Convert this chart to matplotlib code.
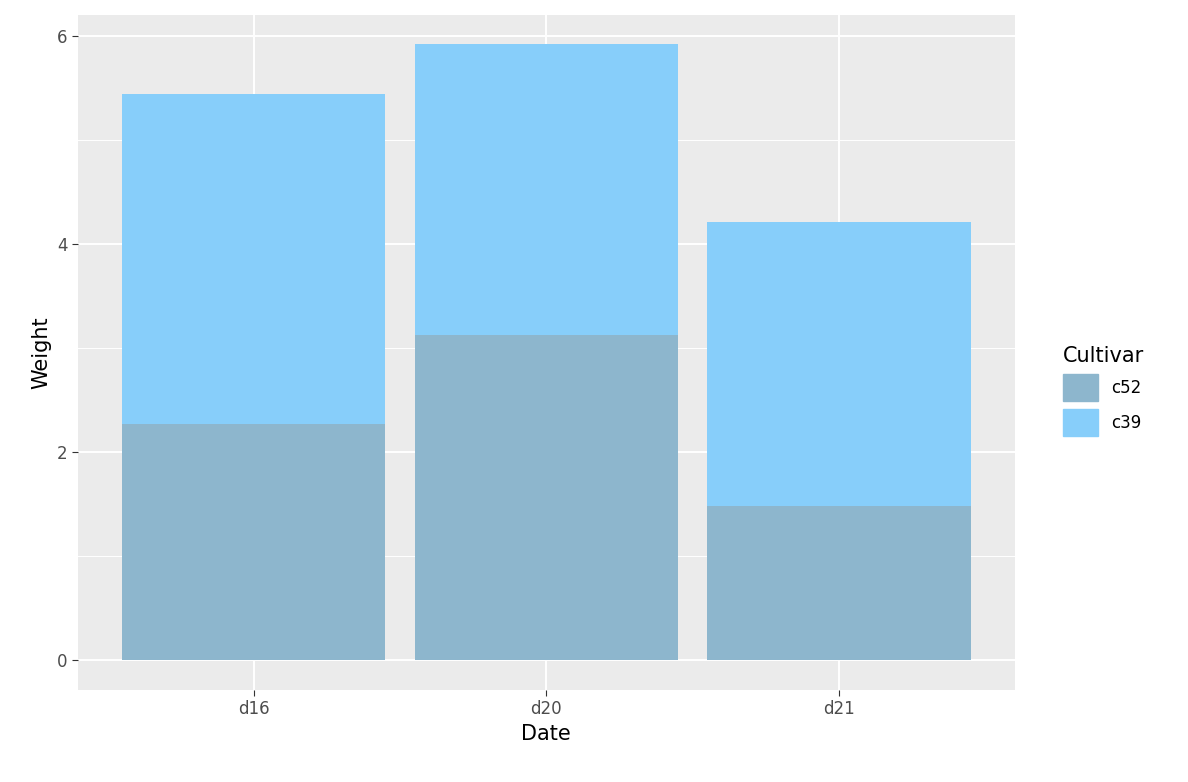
import matplotlib
matplotlib.use("Agg")
import matplotlib.pyplot as plt
from matplotlib.patches import Patch

dates = ["d16", "d20", "d21"]
c52 = [2.27, 3.12, 1.48]
c39 = [3.17, 2.80, 2.73]
col52 = "#8DB6CD"
col39 = "#87CEFA"

fig = plt.figure(figsize=(11.88, 7.82), dpi=100)
ax = fig.add_axes([0.0657, 0.1176, 0.7883, 0.8632])
ax.set_facecolor("#EBEBEB")
x = list(range(len(dates)))
ax.bar(x, c52, width=0.9, color=col52, zorder=2)
ax.bar(x, c39, width=0.9, bottom=c52, color=col39, zorder=2)
ax.set_xlim(-0.6, 2.6)
ax.set_ylim(-0.29, 6.2)
ax.set_yticks([0, 2, 4, 6])
ax.set_yticks([1, 3, 5], minor=True)
ax.set_xticks(x)
ax.set_xticklabels(dates)
ax.grid(which="major", color="white", linewidth=1.4, zorder=1)
ax.grid(which="minor", axis="y", color="white", linewidth=0.7, zorder=1)
ax.set_axisbelow(True)
for s in ax.spines.values():
    s.set_visible(False)
ax.tick_params(which="both", length=4, color="#333333", labelsize=12, labelcolor="#4D4D4D")
ax.tick_params(which="minor", length=0)
ax.set_xlabel("Date", fontsize=15)
ax.set_ylabel("Weight", fontsize=15)
handles = [Patch(color=col52, label="c52"), Patch(color=col39, label="c39")]
fig.legend(handles=handles, title="Cultivar", loc="center left", bbox_to_anchor=(0.882, 0.5),
           frameon=False, fontsize=12, title_fontsize=15, handlelength=2.1, handleheight=2.1,
           alignment="left")
fig.savefig("out.png", dpi=100)
